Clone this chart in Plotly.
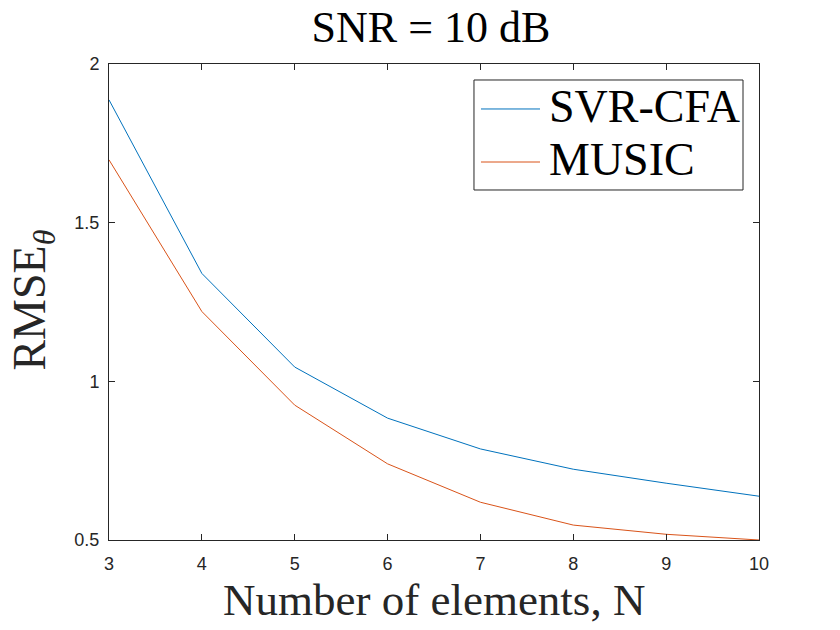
import plotly.graph_objects as go

# number of array elements
n_elements = [3, 4, 5, 6, 7, 8, 9, 10]

# RMSE of theta at SNR = 10 dB
rmse_svr_cfa = [1.887, 1.340, 1.045, 0.884, 0.787, 0.723, 0.679, 0.638]
rmse_music = [1.698, 1.220, 0.925, 0.740, 0.619, 0.547, 0.518, 0.500]

series_names = ["SVR-CFA", "MUSIC"]
series_colors = ["#0072BD", "#D95319"]

x_ticks = [3, 4, 5, 6, 7, 8, 9, 10]
y_ticks = [0.5, 1, 1.5, 2]
y_tick_text = ["0.5", "1", "1.5", "2"]

serif = "Liberation Serif, Times New Roman, serif"
sans = "Liberation Sans, Arial, sans-serif"
axis_grey = "#262626"

fig = go.Figure()
for name, ys, col in zip(series_names, [rmse_svr_cfa, rmse_music], series_colors):
    fig.add_trace(go.Scatter(x=n_elements, y=ys, mode="lines", name=name,
                             line=dict(color=col, width=1)))

axis_style = dict(
    showline=True, linecolor=axis_grey, linewidth=1, mirror="ticks",
    ticks="inside", ticklen=6, tickcolor=axis_grey, tickwidth=1,
    showgrid=False, zeroline=False,
    tickfont=dict(family=sans, size=18, color=axis_grey),
)

fig.update_xaxes(range=[3, 10], tickvals=x_ticks, ticklabelstandoff=7, **axis_style)
fig.update_yaxes(range=[0.5, 2], tickvals=y_ticks, ticktext=y_tick_text,
                 ticklabelstandoff=5, **axis_style)

# MATLAB-like legend box drawn by hand (paper coords)
legend_shapes = [
    dict(type="rect", xref="paper", yref="paper", x0=0.5615, x1=0.9754,
         y0=0.7353, y1=0.9664, line=dict(color=axis_grey, width=1),
         fillcolor="white", layer="above"),
]
legend_notes = []
for i, (name, col) in enumerate(zip(series_names, series_colors)):
    yl = [0.9055, 0.7941][i]
    legend_shapes.append(dict(type="line", xref="paper", yref="paper",
                              x0=0.5723, x1=0.6631, y0=yl, y1=yl,
                              line=dict(color=col, width=1), layer="above"))
    legend_notes.append(dict(text=name, xref="paper", yref="paper",
                             x=0.6738, y=[0.9097, 0.8004][i],
                             xanchor="left", yanchor="middle", showarrow=False,
                             font=dict(family=serif, size=46, color="black")))

fig.update_layout(
    width=840, height=630,
    margin=dict(l=109, r=81, t=64, b=90),
    paper_bgcolor="white", plot_bgcolor="white",
    showlegend=False,
    title=dict(text="SNR = 10 dB", font=dict(family=serif, size=44, color="black"),
               x=0.513, xanchor="center", y=0.957, yanchor="middle"),
    shapes=legend_shapes,
    annotations=legend_notes + [
        dict(text="Number of elements, N", xref="paper", yref="paper",
             x=0.5, y=-0.125, xanchor="center", yanchor="middle", showarrow=False,
             font=dict(family=serif, size=45, color=axis_grey)),
        dict(text="RMSE<sub><i>θ</i></sub>", xref="paper", yref="paper",
             x=-0.117, y=0.505, xanchor="center", yanchor="middle", showarrow=False,
             textangle=-90, font=dict(family=serif, size=46, color=axis_grey)),
    ],
)

fig.write_html("out.html", config={"displayModeBar": False},
               post_script="document.body.style.margin='0';")
